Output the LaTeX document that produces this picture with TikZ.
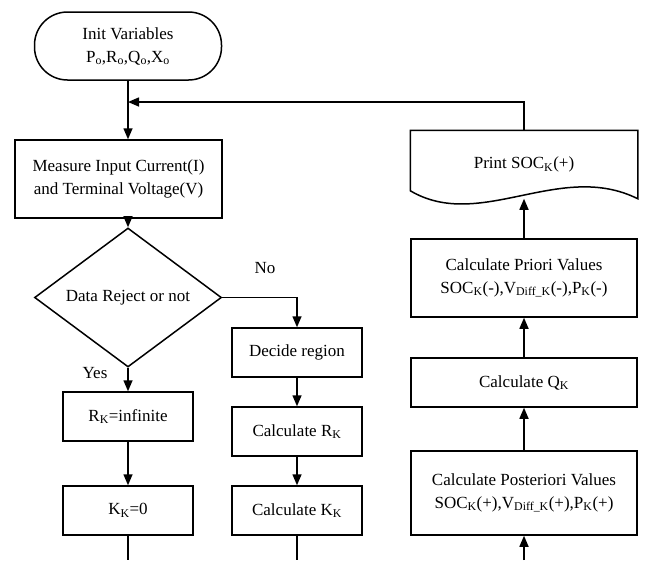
\documentclass[tikz,border=0pt]{standalone}
\usepackage{fontspec}
\setmainfont{Liberation Serif}
\usetikzlibrary{shapes.geometric,arrows.meta}
\newcommand*{\sbs}[1]{\textsubscript{#1}}

\begin{document}
\begin{tikzpicture}[x=1pt, y=-1pt, line width=1.5pt,
  >={Triangle[length=11pt,width=9pt]},
  txt/.style={font=\fontsize{17}{23}\selectfont, align=center},
  box/.style={txt, draw, rectangle, inner sep=0pt, minimum width=130pt, minimum height=49pt},
  widebox/.style={box, minimum width=226pt},
  term/.style={txt, draw, rectangle, rounded corners=33pt, minimum width=187pt, minimum height=68pt},
  decision/.style={txt, draw, diamond, inner sep=0pt, minimum width=187pt, minimum height=99pt}]
\useasboundingbox (0,0) rectangle (647,560);

% left column
\node[term] (init) at (128,46) {Init Variables\\P\sbs{o},R\sbs{o},Q\sbs{o},X\sbs{o}};
\node[box, minimum width=207pt, minimum height=78pt] (meas) at (118.5,179) {Measure Input Current(I)\\and Terminal Voltage(V)};
\node[decision] (rej) at (128,297.5) {Data Reject or not};
\node[box] (rinf) at (128,416.5) {R\sbs{K}=infinite};
\node[box] (kzero) at (128,510.5) {K\sbs{K}=0};

% middle column
\node[box] (region) at (297,352.5) {Decide region};
\node[box] (calcr) at (297,431.5) {Calculate R\sbs{K}};
\node[box] (calck) at (297,510.5) {Calculate K\sbs{K}};

% right column
\node[widebox, minimum height=84pt] (post) at (524,493) {Calculate Posteriori Values\\SOC\sbs{K}(+),V\sbs{Diff\_K}(+),P\sbs{K}(+)};
\node[widebox] (calcq) at (524,382.5) {Calculate Q\sbs{K}};
\node[widebox, minimum height=78pt] (prio) at (524,278) {Calculate Priori Values\\SOC\sbs{K}(-),V\sbs{Diff\_K}(-),P\sbs{K}(-)};
\node[txt, minimum width=226pt, minimum height=67pt, inner sep=0pt] (print) at (524,164.5) {Print SOC\sbs{K}(+)};
\draw ([yshift=8pt]print.south west) -- (print.north west) -- (print.north east) -- (print.south east)
  .. controls (560,160) and (480,232) .. ([yshift=8pt]print.south west) -- cycle;

% labels
\node[txt] (yes) at (95,373) {Yes};
\node[txt] (no) at (265,268) {No};

% connectors
\coordinate (join) at (128,102);
\coordinate (outl) at (128,560);
\coordinate (outm) at (297,560);
\coordinate (outr) at (524,560);
\draw[->] (init.south) -- (init.south |- meas.north);
\draw[->] (print.north) |- (join);
\draw[->] (rej.north |- meas.south) -- (rej.north);
\draw[->] (rej.east) -| (region.north);
\draw[->] (rej.south) -- (rinf.north);
\draw[->] (rinf) -- (kzero);
\draw[->] (region) -- (calcr);
\draw[->] (calcr) -- (calck);
\draw (kzero.south) -- (outl);
\draw (calck.south) -- (outm);
\draw[->] (outr) -- (post.south);
\draw[->] (post) -- (calcq);
\draw[->] (calcq) -- (prio);
\draw[->] (prio) -- (print.south);
\end{tikzpicture}
\end{document}
